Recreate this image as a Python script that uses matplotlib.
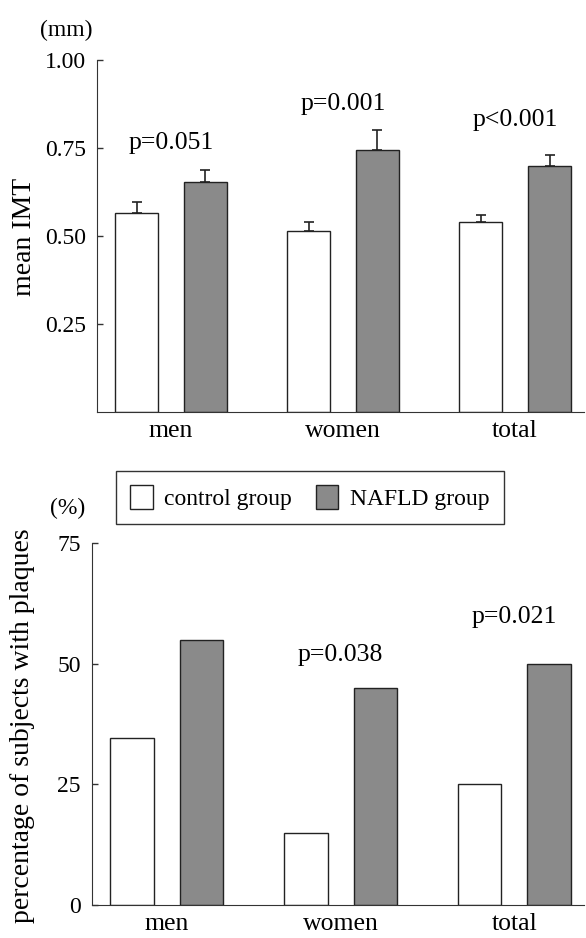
import numpy as np
import matplotlib
matplotlib.use("Agg")
import matplotlib.pyplot as plt

plt.rcParams['font.family'] = ['Liberation Serif', 'DejaVu Serif']

groups = ["men", "women", "total"]
series = ["control group", "NAFLD group"]

# mean IMT (mm) and upper error bars
imt_control = [0.565, 0.515, 0.54]
imt_nafld = [0.652, 0.745, 0.70]
imt_control_err = [0.033, 0.024, 0.02]
imt_nafld_err = [0.035, 0.055, 0.031]
imt_p = ["p=0.051", "p=0.001", "p<0.001"]
imt_p_y = [0.765, 0.875, 0.83]

# percentage of subjects with plaques
plq_control = [34.5, 15.0, 25.0]
plq_nafld = [55.0, 45.0, 50.0]
plq_p = ["", "p=0.038", "p=0.021"]
plq_p_y = [0, 51.8, 59.6]

W, H = 586, 938
fig = plt.figure(figsize=(W / 100, H / 100), dpi=100)
fig.patch.set_facecolor('white')

ax1 = fig.add_axes([97 / W, 1 - 412 / H, 487 / W, 352 / H])
ax2 = fig.add_axes([92 / W, 1 - 905 / H, 492 / W, 362 / H])

x = np.arange(len(groups))
off = 0.2
bw = 0.25
gray = '#8a8a8a'
fs = 18.5
tfs = 17

# top panel
b1 = ax1.bar(x - off, imt_control, bw, color='white', edgecolor='#222222', linewidth=1.0,
             label=series[0])
b2 = ax1.bar(x + off, imt_nafld, bw, color=gray, edgecolor='#222222', linewidth=1.0,
             label=series[1])
ax1.errorbar(x - off, imt_control, yerr=[np.zeros(3), imt_control_err], fmt='none',
             ecolor='#222222', elinewidth=1.2, capsize=3.6, capthick=1.2)
ax1.errorbar(x + off, imt_nafld, yerr=[np.zeros(3), imt_nafld_err], fmt='none',
             ecolor='#222222', elinewidth=1.2, capsize=3.6, capthick=1.2)
for i in range(len(groups)):
    ax1.text(x[i], imt_p_y[i], imt_p[i], ha='center', va='center', fontsize=fs)
ax1.set_ylim(0, 1.0)
ax1.set_yticks([0.25, 0.5, 0.75, 1.0])
ax1.set_yticklabels(["0.25", "0.50", "0.75", "1.00"])
ax1.set_xlim(-0.43, 2.40)
ax1.set_ylabel("mean IMT", fontsize=20)
ax1.yaxis.set_label_coords(37 / W, 1 - 237 / H, transform=fig.transFigure)
fig.text(66 / W, 1 - 30 / H, "(mm)", ha='center', va='center', fontsize=tfs)

# bottom panel
ax2.bar(x - off, plq_control, bw, color='white', edgecolor='#222222', linewidth=1.0)
ax2.bar(x + off, plq_nafld, bw, color=gray, edgecolor='#222222', linewidth=1.0)
for i in range(len(groups)):
    if plq_p[i]:
        ax2.text(x[i], plq_p_y[i], plq_p[i], ha='center', va='center', fontsize=fs)
ax2.set_ylim(0, 75)
ax2.set_yticks([0, 25, 50, 75])
ax2.set_xlim(-0.43, 2.40)
ax2.set_ylabel("percentage of subjects with plaques", fontsize=20)
ax2.yaxis.set_label_coords(35 / W, 1 - 726 / H, transform=fig.transFigure)
fig.text(68 / W, 1 - 508 / H, "(%)", ha='center', va='center', fontsize=tfs)

for ax in [ax1, ax2]:
    ax.spines['top'].set_visible(False)
    ax.spines['right'].set_visible(False)
    ax.spines['left'].set_color('#333333')
    ax.spines['bottom'].set_color('#333333')
    ax.set_xticks(x)
    ax.set_xticklabels(groups, fontsize=fs)
    ax.tick_params(axis='x', length=0, pad=6)
    ax.tick_params(axis='y', direction='in', length=4, width=1, color='#333333',
                   labelsize=tfs, pad=8)

fig.legend(handles=[b1, b2], labels=series, loc='upper left',
           bbox_to_anchor=(116 / W, 1 - 471 / H), ncol=2, fontsize=17,
           frameon=True, fancybox=False, edgecolor='#333333', framealpha=1,
           handlelength=0.95, handleheight=1.15, handletextpad=0.5,
           columnspacing=1.0, borderpad=0.6, borderaxespad=0)
fig.legends[0].get_frame().set_linewidth(1.0)

plt.savefig('out.png', dpi=100)
